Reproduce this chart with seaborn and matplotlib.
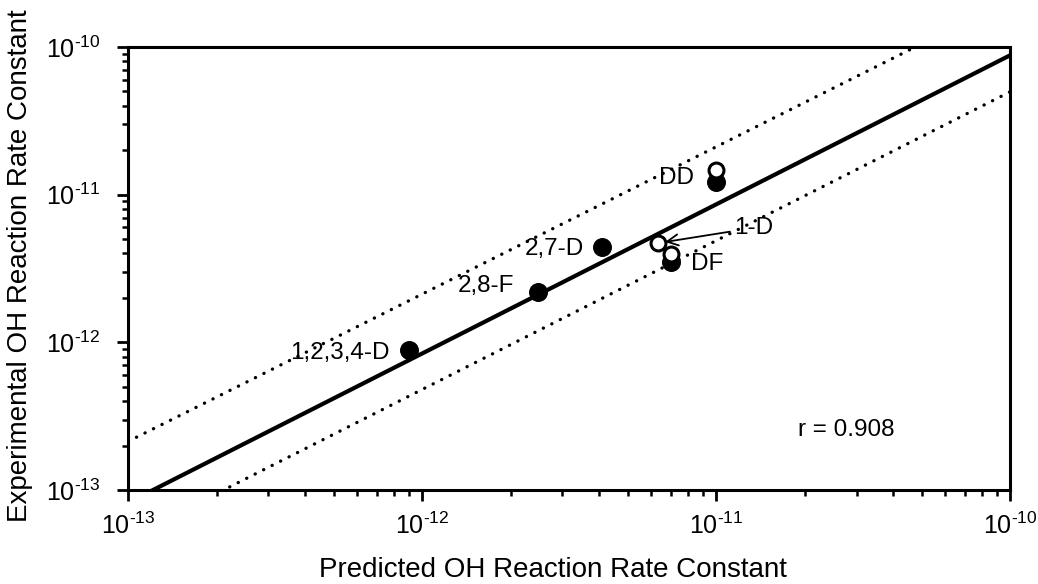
import matplotlib
matplotlib.use("Agg")
import matplotlib.pyplot as plt
import seaborn as sns
import pandas as pd
import numpy as np
from matplotlib.ticker import LogLocator, FixedLocator, NullFormatter

# ---- data ----
filled_labels = ["1,2,3,4-D", "2,8-F", "2,7-D", "DF", "DD"]
filled_pred = [9.0e-13, 2.47e-12, 4.1e-12, 7.0e-12, 1.0e-11]
filled_exp = [8.9e-13, 2.2e-12, 4.45e-12, 3.52e-12, 1.22e-11]

open_labels = ["1-D", "DF", "DD"]
open_pred = [6.35e-12, 7.0e-12, 1.0e-11]
open_exp = [4.7e-12, 3.95e-12, 1.47e-11]

fit_x = [1e-13, 1e-10]
fit_y = [8.2e-14, 8.8e-11]
upper_x = [1e-13, 1e-10]
upper_y = [2.13e-13, 2.1e-10]
lower_x = [1e-13, 1e-10]
lower_y = [4.7e-14, 4.98e-11]

xticks = [1e-13, 1e-12, 1e-11, 1e-10]
xtick_labels = [r"$10^{\text{-}13}$", r"$10^{\text{-}12}$", r"$10^{\text{-}11}$", r"$10^{\text{-}10}$"]
yticks = [1e-13, 1e-12, 1e-11, 1e-10]
ytick_labels = [r"$10^{\text{-}13}$", r"$10^{\text{-}12}$", r"$10^{\text{-}11}$", r"$10^{\text{-}10}$"]
r_text = "r = 0.908"

# ---- style ----
sns.set_theme(style="ticks")
plt.rcParams['font.family'] = ['Liberation Sans', 'DejaVu Sans']
plt.rcParams['mathtext.fontset'] = 'custom'
plt.rcParams['mathtext.rm'] = 'Liberation Sans'
plt.rcParams['mathtext.it'] = 'Liberation Sans'
plt.rcParams['mathtext.default'] = 'regular'
plt.rcParams['text.color'] = 'black'
plt.rcParams['axes.labelcolor'] = 'black'
plt.rcParams['xtick.color'] = 'black'
plt.rcParams['ytick.color'] = 'black'

fig = plt.figure(figsize=(10.38, 5.84), dpi=100)
ax = fig.add_axes([0.1233, 0.161, 0.850, 0.7585])
ax.set_xscale("log")
ax.set_yscale("log")

df_fit = pd.DataFrame({"x": fit_x, "y": fit_y})
df_up = pd.DataFrame({"x": upper_x, "y": upper_y})
df_lo = pd.DataFrame({"x": lower_x, "y": lower_y})

sns.lineplot(data=df_fit, x="x", y="y", ax=ax, color="black", lw=3.0,
             estimator=None, sort=False)
for d in (df_up, df_lo):
    sns.lineplot(data=d, x="x", y="y", ax=ax, color="black", lw=2.4,
                 estimator=None, sort=False)
for line in ax.lines[1:]:
    line.set_linestyle((0, (0.05, 2.8)))
    line.set_dash_capstyle("round")

df_f = pd.DataFrame({"x": filled_pred, "y": filled_exp, "lab": filled_labels})
df_o = pd.DataFrame({"x": open_pred, "y": open_exp, "lab": open_labels})
sns.scatterplot(data=df_f, x="x", y="y", ax=ax, color="black", s=160,
                edgecolor="black", linewidth=1, zorder=5)
sns.scatterplot(data=df_o, x="x", y="y", ax=ax, color="white", s=115,
                edgecolor="black", linewidth=2.2, zorder=6)

ax.set_xlim(1e-13, 1e-10)
ax.set_ylim(1e-13, 1e-10)

# annotations (offsets in points)
fs = 17.5
ax.annotate(filled_labels[0], (filled_pred[0], filled_exp[0]), xytext=(-14, -2),
            textcoords="offset points", ha="right", va="center", fontsize=fs)
ax.annotate(filled_labels[1], (filled_pred[1], filled_exp[1]), xytext=(-17, 4),
            textcoords="offset points", ha="right", va="center", fontsize=fs)
ax.annotate(filled_labels[2], (filled_pred[2], filled_exp[2]), xytext=(-13, -2),
            textcoords="offset points", ha="right", va="center", fontsize=fs)
ax.annotate(filled_labels[4], (filled_pred[4], filled_exp[4]), xytext=(-16, 3),
            textcoords="offset points", ha="right", va="center", fontsize=fs)
ax.annotate(filled_labels[3], (filled_pred[3], filled_exp[3]), xytext=(15, -2),
            textcoords="offset points", ha="left", va="center", fontsize=fs)
ax.annotate(open_labels[0], (open_pred[0], open_exp[0]), xytext=(55, 11),
            textcoords="offset points", ha="left", va="center", fontsize=fs,
            arrowprops=dict(arrowstyle="->", color="black", lw=1.3,
                            shrinkA=1, shrinkB=5, mutation_scale=20))
ax.text(0.814, 0.135, r_text, transform=ax.transAxes, ha="center", va="center",
        fontsize=fs)

# axes styling
for side in ["left", "bottom", "top", "right"]:
    ax.spines[side].set_linewidth(2.2)
    ax.spines[side].set_color("black")

ax.xaxis.set_major_locator(FixedLocator(xticks))
ax.set_xticklabels(xtick_labels)
ax.yaxis.set_major_locator(FixedLocator(yticks))
ax.set_yticklabels(ytick_labels)
ax.xaxis.set_minor_locator(LogLocator(base=10, subs=np.arange(2, 10)))
ax.yaxis.set_minor_locator(LogLocator(base=10, subs=np.arange(2, 10)))
ax.xaxis.set_minor_formatter(NullFormatter())
ax.yaxis.set_minor_formatter(NullFormatter())
ax.tick_params(axis="both", which="major", direction="out", length=8, width=2,
               labelsize=18, color="black", labelcolor="black")
ax.tick_params(axis="x", which="major", pad=8)
ax.tick_params(axis="y", which="major", pad=12)
ax.tick_params(axis="both", which="minor", direction="out", length=4.5, width=1.8,
               color="black")
ax.tick_params(top=False, right=False, which="both")

ax.set_xlabel("Predicted OH Reaction Rate Constant", fontsize=20)
ax.set_ylabel("Experimental OH Reaction Rate Constant", fontsize=20)
ax.xaxis.set_label_coords(0.482, -0.151)
ax.yaxis.set_label_coords(-0.108, 0.507)

fig.savefig("out.png", dpi=100)
